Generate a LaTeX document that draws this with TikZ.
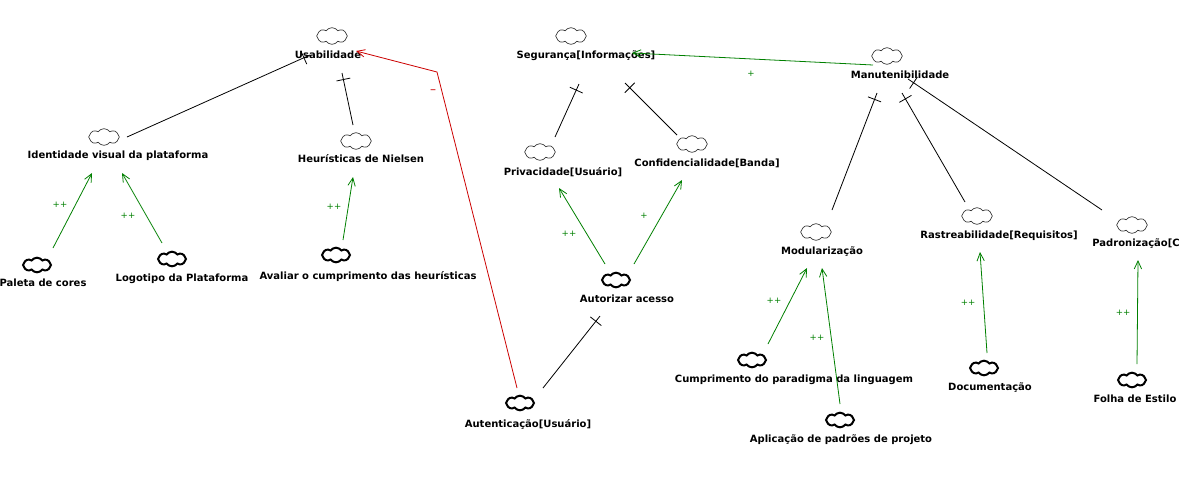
\documentclass[tikz,border=0pt]{standalone}
\usepackage{fontspec}
\setmainfont{DejaVu Sans}
\usetikzlibrary{shapes.symbols,arrows.meta,decorations.markings}
\definecolor{cgreen}{RGB}{0,128,0}
\definecolor{cred}{RGB}{204,0,0}
\begin{document}
\begin{tikzpicture}[x=0.75pt,y=-0.75pt,
 soft/.style={cloud, cloud puffs=8, cloud puff arc=110, aspect=1.8, draw=black!80, line width=0.5pt, minimum width=23pt, minimum height=12.5pt, inner sep=0pt},
 oper/.style={soft, draw=black, line width=1.5pt, minimum width=21pt, minimum height=11pt},
 lbl/.style={font=\bfseries\fontsize{7.5pt}{9pt}\selectfont, inner sep=0pt, text=black, text height=5.5pt, text depth=1.6pt},
 sign/.style={font=\fontsize{6.5pt}{7pt}\selectfont, text=cgreen, inner sep=0pt},
 contrib/.style={draw=cgreen, line width=0.6pt, -{Straight Barb[length=6pt,width=5.5pt]}},
 hurt/.style={draw=cred, line width=0.6pt, -{Straight Barb[length=6pt,width=5.5pt]}},
 decomp/.style={draw=black, line width=0.6pt, postaction={decorate}, decoration={markings, mark=at position -5pt with {\draw[line width=0.6pt] (0pt,-5.25pt) -- (0pt,5.25pt);}}},
]
\fill[white] (0,0) rectangle (1181,476);
\useasboundingbox (0,0) rectangle (1181,476);

% softgoals and operationalizations
\node[soft] (cUsab) at (332,36) {};
\node[lbl] (usab) at (328,56) {Usabilidade};
\node[soft] (cIdent) at (104,137) {};
\node[lbl] (ident) at (118,156) {Identidade visual da plataforma};
\node[soft] (cHeur) at (356,141) {};
\node[lbl] (heur) at (361,160) {Heurísticas de Nielsen};
\node[soft] (cSeg) at (571,36) {};
\node[lbl] (seg) at (586,56) {Segurança[Informações]};
\node[soft] (cManut) at (887,56) {};
\node[lbl] (manut) at (900,76) {Manutenibilidade};
\node[soft] (cPriv) at (540,152) {};
\node[lbl] (priv) at (563,173) {Privacidade[Usuário]};
\node[soft] (cConf) at (692,144) {};
\node[lbl] (conf) at (707,164) {Confidencialidade[Banda]};
\node[oper] (cAutz) at (616,280) {};
\node[lbl] (autz) at (627,300) {Autorizar acesso};
\node[oper] (cAuten) at (520,403) {};
\node[lbl] (auten) at (528,425) {Autenticação[Usuário]};
\node[oper] (cPal) at (37,265) {};
\node[lbl] (pal) at (43,284) {Paleta de cores};
\node[oper] (cLogo) at (172,259) {};
\node[lbl] (logo) at (182,279) {Logotipo da Plataforma};
\node[oper] (cAval) at (336,255) {};
\node[lbl] (aval) at (368,277) {Avaliar o cumprimento das heurísticas};
\node[soft] (cMod) at (816,232) {};
\node[lbl] (mod) at (822,252) {Modularização};
\node[soft] (cRas) at (977,216) {};
\node[lbl] (ras) at (999,236) {Rastreabilidade[Requisitos]};
\node[soft] (cPad) at (1132,225) {};
\node[lbl, anchor=east] (pad) at (1180,244) {Padronização[C};
\node[oper] (cCump) at (752,360) {};
\node[lbl] (cump) at (794,380) {Cumprimento do paradigma da linguagem};
\node[oper] (cApl) at (840,420) {};
\node[lbl] (apl) at (841,440) {Aplicação de padrões de projeto};
\node[oper] (cDoc) at (984,368) {};
\node[lbl] (doc) at (990,388) {Documentação};
\node[oper] (cFol) at (1132,380) {};
\node[lbl] (fol) at (1135,400) {Folha de Estilo};

% decompositions
\draw[decomp] ([shift={(23,0)}]cIdent.center) -- ([shift={(-18,-1)}]usab.center);
\draw[decomp] ([shift={(-3,-16)}]cHeur.center) -- ([shift={(14,17)}]usab.center);
\draw[decomp] ([shift={(15,-15)}]cPriv.center) -- ([shift={(-7,28)}]seg.center);
\draw[decomp] ([shift={(-15,-9)}]cConf.center) -- ([shift={(39,27)}]seg.center);
\draw[decomp] ([shift={(23,-15)}]cAuten.center) -- ([shift={(-27,16)}]autz.center);
\draw[decomp] ([shift={(16,-22)}]cMod.center) -- ([shift={(-23,17)}]manut.center);
\draw[decomp] ([shift={(-12,-14)}]cRas.center) -- ([shift={(2,17)}]manut.center);
\draw[decomp] ([shift={(-30,-15)}]cPad.center) -- ([shift={(8,3)}]manut.center);

% contributions
\draw[contrib] ([shift={(16,-17)}]cPal.center) -- ([shift={(-26,17)}]ident.center);
\draw[contrib] ([shift={(-10,-16)}]cLogo.center) -- ([shift={(4,17)}]ident.center);
\draw[contrib] ([shift={(7,-15)}]cAval.center) -- ([shift={(-8,17)}]heur.center);
\draw[contrib] ([shift={(-11,-16)}]cAutz.center) -- ([shift={(-4,15)}]priv.center);
\draw[contrib] ([shift={(18,-16)}]cAutz.center) -- ([shift={(-25,16)}]conf.center);
\draw[contrib] ([shift={(-14,9)}]cManut.center) -- ([shift={(46,-3)}]seg.center);
\draw[contrib] ([shift={(16,-16)}]cCump.center) -- ([shift={(-15,16)}]mod.center);
\draw[contrib] ([shift={(0,-16)}]cApl.center) -- ([shift={(0,16)}]mod.center);
\draw[contrib] ([shift={(3,-15)}]cDoc.center) -- ([shift={(-19,16)}]ras.center);
\draw[contrib] ([shift={(5,-16)}]cFol.center) -- ([shift={(6,35)}]cPad.center);
\draw[hurt] ([shift={(-3,-15)}]cAuten.center) -- (437,72) -- ([shift={(28,-5)}]usab.center);

% contribution signs
\node[sign] (s1) at (60,205) {++};
\node[sign] (s2) at (128,216) {++};
\node[sign] (s3) at (334,207) {++};
\node[sign] (s4) at (569,234) {++};
\node[sign] (s5) at (644,216) {+};
\node[sign] (s6) at (751,74) {+};
\node[sign] (s7) at (774,301) {++};
\node[sign] (s8) at (817,338) {++};
\node[sign] (s9) at (968,303) {++};
\node[sign] (s10) at (1123,313) {++};
\node[sign, text=cred, font=\fontsize{9pt}{9pt}\selectfont] (s11) at (433,92) {–};
\end{tikzpicture}
\end{document}
